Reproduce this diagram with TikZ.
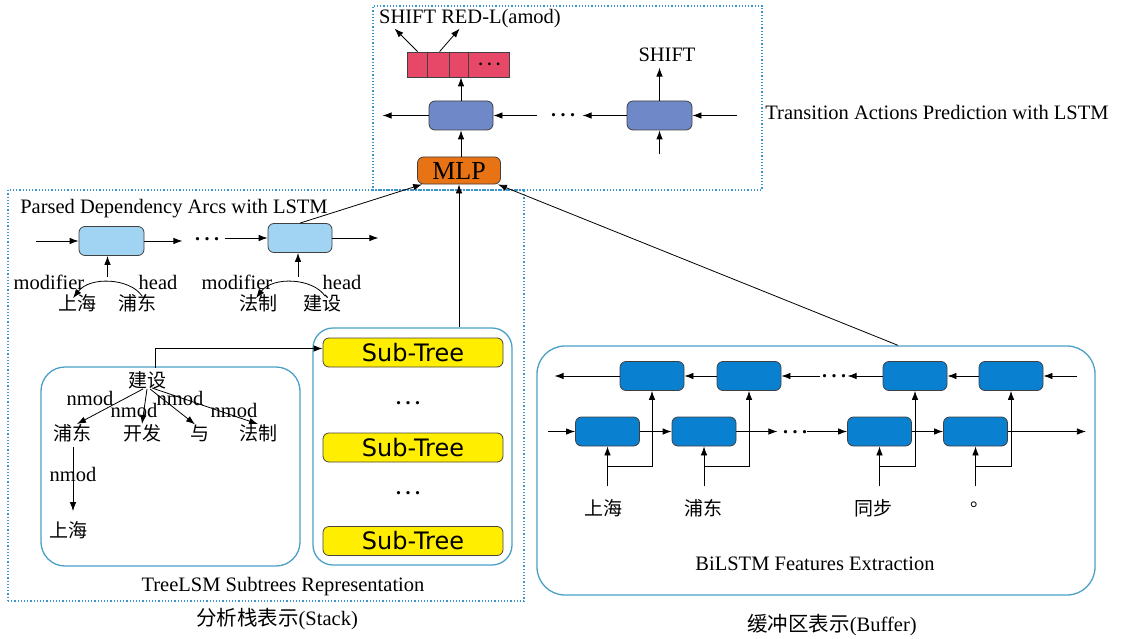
\documentclass[tikz,border=0pt]{standalone}
\usepackage{fontspec}
\setmainfont{Liberation Serif}
\newfontfamily\cjk{Noto Sans CJK SC}
\newfontfamily\subfont{DejaVu Sans}
\usetikzlibrary{calc,arrows.meta}
\definecolor{dotblue}{RGB}{60,150,205}
\definecolor{panelblue}{RGB}{75,160,200}
\definecolor{lstmblue}{RGB}{111,136,200}
\definecolor{actred}{RGB}{232,72,104}
\definecolor{mlporange}{RGB}{232,115,20}
\definecolor{arcblue}{RGB}{160,212,242}
\definecolor{subyellow}{RGB}{255,238,0}
\definecolor{bufblue}{RGB}{10,128,208}
\newcommand{\gapdots}{\textbf{.\hspace{4.5pt}.\hspace{4.5pt}.}}

\begin{document}
\begin{tikzpicture}[x=1pt,y=-1pt,
  txt/.style={font=\fontsize{20.5}{24}\selectfont, inner sep=0pt},
  zh/.style={font=\cjk\fontsize{19}{22}\selectfont, inner sep=0pt},
  arr/.style={-{Latex[length=9pt,width=6.5pt]}, line width=0.8pt},
  cell/.style={draw=black!75, line width=0.8pt, rounded corners=6pt, minimum width=64pt, minimum height=29pt, inner sep=0pt},
  panel/.style={draw=panelblue, line width=1.3pt, rounded corners=24pt, inner sep=0pt},
  frame/.style={draw=dotblue, dotted, line width=1.2pt, inner sep=0pt},
  subtree/.style={cell, fill=subyellow, draw=black!70!yellow!60!black, minimum width=180pt, font=\subfont\fontsize{24}{24}\selectfont}]

\path[use as bounding box, fill=white] (0,0) rectangle (1123,639);

\node[frame, minimum width=389pt, minimum height=184pt] (predframe) at (567.5,98) {};
\node[frame, minimum width=516pt, minimum height=411pt] (stackframe) at (266,395.5) {};
\node[panel, minimum width=259pt, minimum height=199pt] (treebox) at (170.5,466.5) {};
\node[panel, rounded corners=20pt, minimum width=199pt, minimum height=237pt] (subbox) at (412.5,446.5) {};
\node[panel, rounded corners=28pt, minimum width=558pt, minimum height=249pt] (bufbox) at (816,470.5) {};

\node[cell, fill=actred, rounded corners=0pt, minimum width=102pt, minimum height=25pt] (acts) at (458,64.5) {};
\foreach \d in {21,43,62} \draw[line width=0.8pt, black!75] ($(acts.north west)+(\d,0)$) -- ($(acts.south west)+(\d,0)$);
\node[font=\fontsize{17}{17}\selectfont] (actdots) at ($(acts.east)-(20,0)$) {\gapdots};
\node[txt] (actlbl) at (470,19) {SHIFT RED-L(amod)};
\coordinate (shiftend) at ($(acts.north west)+(-12,-23)$);
\coordinate (redlend) at ($(acts.north west)+(53,-23)$);
\draw[arr] ($(acts.north west)+(11,0)$) -- (shiftend);
\draw[arr] ($(acts.north west)+(33,0)$) -- (redlend);

\node[cell, fill=lstmblue] (top1) at (461,115.5) {};
\node[cell, fill=lstmblue, minimum width=65pt] (top2) at (659.5,115.5) {};
\node[cell, fill=mlporange, minimum width=83pt, minimum height=27pt, font=\fontsize{26}{26}\selectfont] (mlp) at (459,170.5) {MLP};
\node[txt] (shiftlbl) at (667,55) {SHIFT};
\node[txt] (predlbl) at (937,112) {Transition Actions Prediction with LSTM};
\node[font=\fontsize{20}{20}\selectfont] (topdots) at (563,115) {\gapdots};
\coordinate (top1out) at ($(top1.west)-(46,0)$);
\coordinate (top1in) at ($(top1.east)+(44,0)$);
\coordinate (top2out) at ($(top2.west)-(44,0)$);
\coordinate (top2in) at ($(top2.east)+(45,0)$);
\coordinate (top2up) at ($(top2.north)+(0,-33)$);
\coordinate (top2low) at ($(top2.south)+(0,24)$);
\draw[arr] (top1.west) -- (top1out);
\draw[arr] (top1in) -- (top1.east);
\draw[arr] (top2.west) -- (top2out);
\draw[arr] (top2in) -- (top2.east);
\draw[arr] (top2.north) -- (top2up);
\draw[arr] (top2low) -- (top2.south);
\draw[arr] (top1.north) -- (top1.north |- acts.south);
\draw[arr] (top1.south |- mlp.north) -- (top1.south);

\node[txt] (arclbl) at (174,209) {Parsed Dependency Arcs with LSTM};
\node[cell, fill=arcblue, minimum width=65pt] (arc1) at (111.5,241) {};
\node[cell, fill=arcblue] (arc2) at (300,238) {};
\node[font=\fontsize{20}{20}\selectfont] (arcdots) at (207,239) {\gapdots};
\coordinate (arc1in) at ($(arc1.west)-(43,0)$);
\coordinate (arc1out) at ($(arc1.east)+(38,0)$);
\coordinate (arc2in) at ($(arc2.west)-(43,0)$);
\coordinate (arc2out) at ($(arc2.east)+(46,0)$);
\coordinate (arc1low) at ($(arc1.south)+(-4,21)$);
\coordinate (arc2low) at ($(arc2.south)+(-2,24)$);
\draw[arr] (arc1in) -- (arc1.west);
\draw[arr] (arc1.east) -- (arc1out);
\draw[arr] (arc2in) -- (arc2.west);
\draw[arr] (arc2.east) -- (arc2out);
\draw[arr] (arc1low) -- (arc1low |- arc1.south);
\draw[arr] (arc2low) -- (arc2low |- arc2.south);
\node[txt] (mod1) at (49,282) {modifier};
\node[txt] (head1) at (158,282) {head};
\node[txt] (mod2) at (237,282) {modifier};
\node[txt] (head2) at (342,282) {head};
\node[zh] (sh1) at (77,303) {上海};
\node[zh] (pd1) at (137,303) {浦东};
\node[zh] (fz2) at (258,303) {法制};
\node[zh] (js2) at (322,303) {建设};
\coordinate (sh1tip) at ($(sh1.north)+(-4,4)$);
\coordinate (fz2tip) at ($(fz2.north)+(-2,4)$);
\draw[arr] ($(pd1.north)+(5,2)$) .. controls +(-12,-18) and +(17,-22) .. (sh1tip);
\draw[arr] ($(js2.north)+(3,2)$) .. controls +(-12,-18) and +(17,-22) .. (fz2tip);

\node[zh] (root) at (147,380) {建设};
\node[zh] (pd) at (72,433) {浦东};
\node[zh] (kf) at (142,433) {开发};
\node[zh] (yu) at (200,433) {与};
\node[zh] (fz) at (258,433) {法制};
\node[zh] (sh) at (68,530) {上海};
\draw[arr] ($(root.south)+(-4,0)$) -- ($(pd.north)+(5,0)$);
\draw[arr] (root.south) -- (kf.north);
\draw[arr] ($(root.south)+(3,0)$) -- ($(yu.north)+(-5,0)$);
\draw[arr] ($(root.south)+(5,-1)$) -- (fz.north);
\draw[arr] ($(pd.south)+(1,5)$) -- ($(sh.north)+(5,-10)$);
\node[txt] (nm1) at (90,398) {nmod};
\node[txt] (nm2) at (134,410) {nmod};
\node[txt] (nm3) at (180,398) {nmod};
\node[txt] (nm4) at (234,410) {nmod};
\node[txt] (nm5) at (73,474) {nmod};

\node[subtree] (st1) at (413,352.5) {Sub-Tree};
\node[subtree] (st2) at (413,447.5) {Sub-Tree};
\node[subtree] (st3) at (413,541) {Sub-Tree};
\node[font=\fontsize{20}{20}\selectfont] (sdots1) at (408,403) {\gapdots};
\node[font=\fontsize{20}{20}\selectfont] (sdots2) at (408,493) {\gapdots};
\coordinate (rootup) at ($(root.north)+(8,-3)$);
\draw[arr] (rootup) |- ($(st1.west)+(0,-4)$);

\node[txt] (treelbl) at (283,587) {TreeLSM Subtrees Representation};
\node[txt] (stacklbl) at (277,619) {{\cjk\fontsize{20.5}{24}\selectfont 分析栈表示}(Stack)};

\draw[arr] (mlp.south |- subbox.north) -- (mlp.south);
\draw[arr] (arc2.north) -- ($(mlp.south west)+(5,0)$);
\draw[arr] ($(bufbox.north)+(82,0)$) -- ($(mlp.south east)+(-3,0)$);

\foreach \n/\x in {1/607.5,2/704,3/879.5,4/975.5}
  \node[cell, fill=bufblue] (f\n) at (\x,431.5) {};
\foreach \n/\x in {1/652,2/749,3/915,4/1011}
  \node[cell, fill=bufblue] (b\n) at (\x,376) {};
\foreach \n in {1,...,4}{
  \coordinate (in\n) at ($(f\n.south)+(0,40)$);
  \coordinate (br\n) at ($(f\n.south)+(0,20)$);
  \draw[arr] (in\n) -- (f\n.south);
  \draw[arr] (br\n) -| (b\n.south);
}
\coordinate (b1out) at ($(b1.west)-(65,0)$);
\coordinate (b2in) at ($(b2.east)+(39,0)$);
\coordinate (b3out) at ($(b3.west)-(35,0)$);
\coordinate (b4in) at ($(b4.east)+(34,0)$);
\draw[arr] (b1.west) -- (b1out);
\draw[arr] (b2.west) -- (b1.east);
\draw[arr] (b2in) -- (b2.east);
\draw[arr] (b3.west) -- (b3out);
\draw[arr] (b4.west) -- (b3.east);
\draw[arr] (b4in) -- (b4.east);
\node[font=\fontsize{20}{20}\selectfont] (bdots) at (834,376) {\gapdots};
\coordinate (f1in) at ($(f1.west)-(27,0)$);
\coordinate (f2out) at ($(f2.east)+(41,0)$);
\coordinate (f3in) at ($(f3.west)-(40,0)$);
\coordinate (f4out) at ($(f4.east)+(78,0)$);
\draw[arr] (f1in) -- (f1.west);
\draw[arr] (f1.east) -- (f2.west);
\draw[arr] (f2.east) -- (f2out);
\draw[arr] (f3in) -- (f3.west);
\draw[arr] (f3.east) -- (f4.west);
\draw[arr] (f4.east) -- (f4out);
\node[font=\fontsize{20}{20}\selectfont] (fdots) at (795,432) {\gapdots};

\node[zh] (w1) at (603,508) {上海};
\node[zh] (w2) at (703,508) {浦东};
\node[zh] (w3) at (873,508) {同步};
\node[zh] (w4) at (980,505) {。};
\node[txt] (bufinner) at (815,564) {BiLSTM Features Extraction};
\node[txt] (buflbl) at (832,625) {{\cjk\fontsize{20.5}{24}\selectfont 缓冲区表示}(Buffer)};

\end{tikzpicture}
\end{document}
